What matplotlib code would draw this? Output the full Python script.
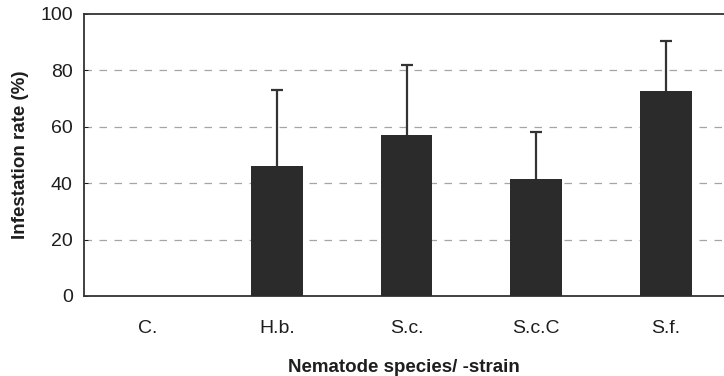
import matplotlib
matplotlib.use("Agg")
import matplotlib.pyplot as plt

# Infestation rate per nematode species / strain
categories = ["C.", "H.b.", "S.c.", "S.c.C", "S.f."]
infestation = [0, 46, 57, 41.5, 72.5]
err_upper = [0, 27, 25, 16.5, 18]
yticks = [0, 20, 40, 60, 80, 100]

plt.rcParams["font.family"] = ["Liberation Sans", "DejaVu Sans"]

fig = plt.figure(figsize=(7.24, 3.76), dpi=100)
ax = fig.add_axes([0.116, 0.213, 0.884, 0.750])

x = list(range(len(categories)))
ax.bar(x, infestation, width=0.4, color="#2b2b2b", zorder=4)
# upper whiskers only: the lower half is hidden behind each bar
ax.errorbar(x[1:], infestation[1:], yerr=err_upper[1:],
            fmt="none", ecolor="#333333", elinewidth=1.6, capsize=4,
            capthick=1.6, zorder=3)

ax.set_xlim(-0.49, 4.45)
ax.set_ylim(0, 100)
ax.set_yticks(yticks)
ax.set_yticklabels([str(v) for v in yticks], fontsize=14, color="#1e1e1e")
ax.set_xticks(x)
ax.set_xticklabels(categories, fontsize=14, color="#1e1e1e")
ax.tick_params(axis="x", length=0, pad=17)
ax.tick_params(axis="y", direction="in", length=3, width=0.6, pad=8)

for y in yticks[1:-1]:
    ax.axhline(y, color="#a5a5a5", linestyle=(0, (6, 6)), linewidth=0.9, zorder=1)

for side in ["left", "bottom", "top"]:
    ax.spines[side].set_color("#333333")
    ax.spines[side].set_linewidth(1.3)
ax.spines["right"].set_visible(False)

ax.set_ylabel("Infestation rate (%)", fontsize=13.5, fontweight="bold",
              color="#1e1e1e", labelpad=8)
ax.set_xlabel("Nematode species/ -strain", fontsize=13.5, fontweight="bold",
              color="#1e1e1e", labelpad=16)

fig.savefig("out.png", dpi=100, facecolor="white")
